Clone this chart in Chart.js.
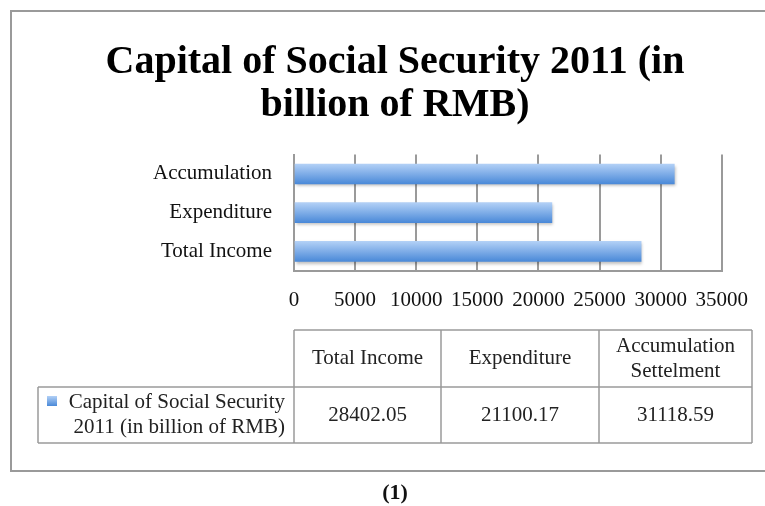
<!DOCTYPE html>
<html>
<head>
<meta charset="utf-8">
<script src="https://cdn.jsdelivr.net/npm/chart.js@4/dist/chart.umd.min.js"></script>
<style>
  html, body { margin: 0; padding: 0; background: #fff; }
  canvas { display: block; }
</style>
</head>
<body>
<canvas id="myChart" width="765" height="506"></canvas>
<script>
var titleLines = ["Capital of Social Security 2011 (in", "billion of RMB)"];
var categories = ["Total Income", "Expenditure", "Accumulation"];
var tableHeaders = [["Total Income"], ["Expenditure"], ["Accumulation", "Settelment"]];
var seriesName = ["Capital of Social Security", "2011 (in billion of RMB)"];
var values = [28402.05, 21100.17, 31118.59];
var xMax = 35000;
var xStep = 5000;
var caption = "(1)";

var SERIF = '"Liberation Serif", "DejaVu Serif", serif';
var LINE_GREY = "#9a9a9a";
var BAR_TOP = "#b2d0f6";
var BAR_BOTTOM = "#4a89d8";
var BAR_THICK = 20;

function barGradient(ctx, y0, y1) {
  var g = ctx.createLinearGradient(0, y0, 0, y1);
  g.addColorStop(0, BAR_TOP);
  g.addColorStop(1, BAR_BOTTOM);
  return g;
}

// soft drop shadow under the bars
var barShadow = {
  id: "barShadow",
  beforeDatasetsDraw: function (chart) {
    var c = chart.ctx;
    c.save();
    c.shadowColor = "rgba(0,0,0,0.28)";
    c.shadowBlur = 3;
    c.shadowOffsetX = 1;
    c.shadowOffsetY = 2;
  },
  afterDatasetsDraw: function (chart) {
    chart.ctx.restore();
  }
};

// outer frame, data table under the axis and the caption
var frameAndTable = {
  id: "frameAndTable",
  afterDraw: function (chart) {
    var c = chart.ctx;
    var left = chart.chartArea.left;
    var cols = [left, 441, 599, 752];
    var rowTop = 330, rowMid = 387, rowBot = 443, headLeft = 38;

    c.save();
    c.strokeStyle = LINE_GREY;
    c.lineWidth = 2;
    c.strokeRect(11, 11, 790, 460);

    c.lineWidth = 1.5;
    c.beginPath();
    c.moveTo(cols[0], rowTop); c.lineTo(cols[3], rowTop);
    c.moveTo(headLeft, rowMid); c.lineTo(cols[3], rowMid);
    c.moveTo(headLeft, rowBot); c.lineTo(cols[3], rowBot);
    cols.forEach(function (x) {
      c.moveTo(x, rowTop); c.lineTo(x, rowBot);
    });
    c.moveTo(headLeft, rowMid); c.lineTo(headLeft, rowBot);
    c.stroke();

    c.fillStyle = "#222";
    c.font = "21px " + SERIF;
    c.textAlign = "center";
    c.textBaseline = "middle";
    var headMid = (rowTop + rowMid) / 2;
    var dataMid = (rowMid + rowBot) / 2;
    tableHeaders.forEach(function (lines, i) {
      var cx = (cols[i] + cols[i + 1]) / 2;
      lines.forEach(function (t, k) {
        c.fillText(t, cx, headMid + (k - (lines.length - 1) / 2) * 25);
      });
      c.fillText(values[i].toFixed(2), cx, dataMid);
    });

    // series key in the row header
    c.fillStyle = barGradient(c, 396, 406);
    c.fillRect(47, 396, 10, 10);
    c.fillStyle = "#222";
    c.textAlign = "right";
    seriesName.forEach(function (t, k) {
      c.fillText(t, 285, dataMid + (k - 0.5) * 25);
    });

    c.font = "bold 22px " + SERIF;
    c.textAlign = "center";
    c.fillStyle = "#111";
    c.fillText(caption, 395, 493);
    c.restore();
  }
};

var ctx = document.getElementById("myChart");

var myChart = new Chart(ctx, {
  type: "bar",
  data: {
    labels: categories,
    datasets: [
      {
        label: seriesName.join(" "),
        data: values,
        barThickness: BAR_THICK,
        borderWidth: 0,
        backgroundColor: function (context) {
          var chart = context.chart;
          if (context.type !== "data" || !chart.chartArea) return BAR_BOTTOM;
          var y = chart.scales.y.getPixelForValue(context.dataIndex);
          return barGradient(chart.ctx, y - BAR_THICK / 2, y + BAR_THICK / 2);
        }
      }
    ]
  },
  options: {
    indexAxis: "y",
    responsive: false,
    animation: false,
    layout: {
      padding: { left: 67, right: 42, top: 0, bottom: 176 }
    },
    plugins: {
      legend: { display: false },
      tooltip: { enabled: false },
      title: {
        display: true,
        text: titleLines,
        color: "#000",
        font: { family: SERIF, size: 40, weight: "bold", lineHeight: 1.07 },
        padding: { top: 41, bottom: 28 }
      }
    },
    scales: {
      x: {
        min: 0,
        max: xMax,
        grid: { color: LINE_GREY, lineWidth: 2, drawTicks: false },
        border: { display: true, color: LINE_GREY, width: 2 },
        ticks: {
          stepSize: xStep,
          autoSkip: false,
          maxRotation: 0,
          padding: 17,
          color: "#111",
          font: { family: SERIF, size: 21 },
          callback: function (v) { return String(v); }
        }
      },
      y: {
        reverse: true,
        grid: { display: false, drawTicks: false },
        border: { display: true, color: LINE_GREY, width: 2 },
        ticks: {
          padding: 22,
          color: "#111",
          font: { family: SERIF, size: 21 }
        },
        afterFit: function (scale) { scale.width = 227; }
      }
    }
  },
  plugins: [barShadow, frameAndTable]
});
</script>
</body>
</html>
